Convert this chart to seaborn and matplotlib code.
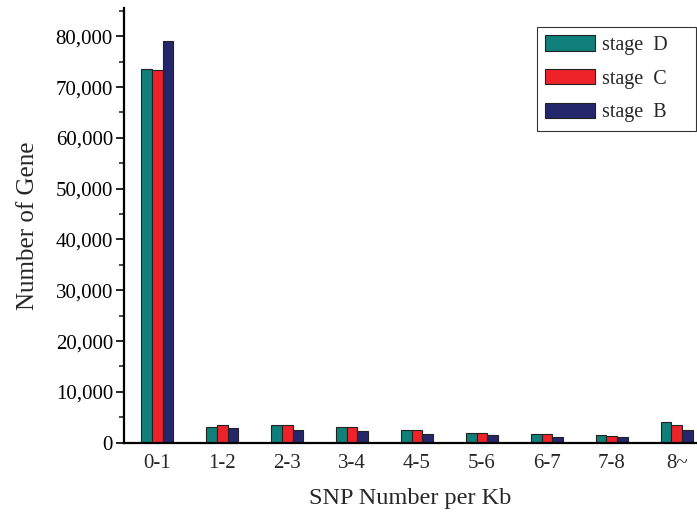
import matplotlib
matplotlib.use("Agg")
import matplotlib.pyplot as plt
import matplotlib.ticker as mticker
import seaborn as sns
import pandas as pd

categories = ["0-1", "1-2", "2-3", "3-4", "4-5", "5-6", "6-7", "7-8", "8~"]
stage_d = [73600, 3090, 3480, 3020, 2500, 1970, 1710, 1510, 4000]
stage_c = [73350, 3480, 3480, 3080, 2500, 1970, 1710, 1380, 3540]
stage_b = [79100, 2810, 2500, 2230, 1710, 1440, 1120, 1050, 2560]
stages = ["stage  D", "stage  C", "stage  B"]
colors = ["#0f7f79", "#ee2229", "#25276b"]

rows = []
for name, vals in zip(stages, [stage_d, stage_c, stage_b]):
    for cat, v in zip(categories, vals):
        rows.append({"bin": cat, "stage": name, "count": v})
df = pd.DataFrame(rows)

sns.set_style("ticks")
plt.rcParams["font.family"] = ["Liberation Serif", "DejaVu Serif"]

fig = plt.figure(figsize=(6.97, 5.12), dpi=100)
ax = fig.add_axes([0.178, 0.1354, 0.822, 0.849])

sns.barplot(data=df, x="bin", y="count", hue="stage", order=categories,
            hue_order=stages, palette=colors, width=0.5, saturation=1,
            edgecolor="#222222", linewidth=0.8, ax=ax)

ax.set_xlim(-0.51, 8.31)
ax.set_ylim(0, 85570)
ax.yaxis.set_major_locator(mticker.MultipleLocator(10000))
ax.yaxis.set_minor_locator(mticker.MultipleLocator(5000))
ax.yaxis.set_major_formatter(mticker.FuncFormatter(lambda v, p: f"{int(v):,}"))
ax.tick_params(axis="y", which="major", direction="out", length=6, width=1.2,
               labelsize=15, colors="black", pad=2)
ax.tick_params(axis="y", which="minor", direction="out", length=3.5, width=1.2)
ax.tick_params(axis="x", length=0, labelsize=15, pad=8)

for side in ["top", "right"]:
    ax.spines[side].set_visible(False)
for side in ["left", "bottom"]:
    ax.spines[side].set_linewidth(1.6)
    ax.spines[side].set_color("black")

ax.set_xlabel("SNP Number per Kb", fontsize=17.5, labelpad=11)
ax.set_ylabel("Number of Gene", fontsize=18, labelpad=12)

# trailing spaces leave room on the right side of the legend box
handles, labels = ax.get_legend_handles_labels()
leg = ax.legend(handles, [lab + "    " for lab in labels],
                loc="upper right", bbox_to_anchor=(0.998, 0.956), frameon=True,
                fancybox=False, edgecolor="black", fontsize=14.5,
                handlelength=2.5, handleheight=0.8, borderpad=0.4,
                labelspacing=0.7, handletextpad=0.35, borderaxespad=0)
leg.get_frame().set_linewidth(0.8)

fig.savefig("out.png", dpi=100)
